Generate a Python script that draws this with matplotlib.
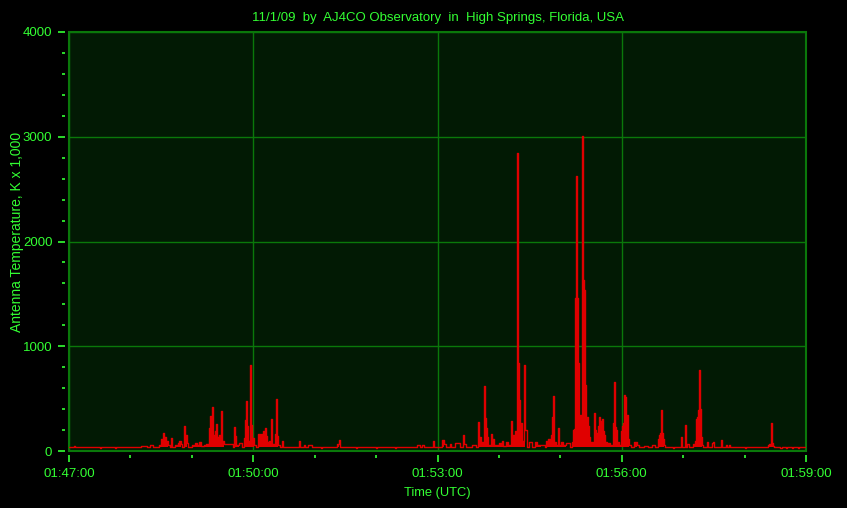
# Antenna temperature record, AJ4CO Observatory, 11/1/09
import matplotlib
matplotlib.use('Agg')
import matplotlib.pyplot as plt
import numpy as np

# seconds after 01:47:00 UTC (sample where the value changes)
sec = [0, 5, 6, 30, 31, 45, 46, 70, 76, 79, 82,
       88, 90, 92, 93, 95, 97, 99, 100, 101, 104,
       106, 107, 109, 110, 112.5, 113.5, 115, 116, 120, 123,
       125, 127, 129, 132, 134, 137, 138, 139, 140, 141,
       142.5, 144, 145, 147, 148.5, 149.5, 151, 160, 161, 162,
       163, 166, 169, 171, 172, 173, 174, 175, 177, 178,
       179, 180.5, 182.5, 184.5, 186.5, 187.5, 188.5, 190, 191, 192,
       193.5, 195, 196.5, 197.5, 198.5, 201, 202.5, 203.5, 204.5, 206,
       208.5, 209.5, 224.5, 225.5, 229.5, 230.5, 233.5, 237.5, 246, 247,
       262, 263.5, 265, 280, 281, 300, 301, 318, 319, 340,
       343, 345, 347, 356, 357, 364.5, 366.5, 368.5, 372, 373,
       377, 382, 385, 386, 388, 394, 398, 400, 401, 402.5,
       405, 406, 407, 408, 409, 412, 413, 415, 420, 423,
       424, 426.5, 429, 432, 433, 434, 435.5, 436.5, 438, 439,
       440, 441, 442, 443, 444.5, 445.5, 447, 449.5, 452, 455,
       457, 461, 465, 466, 468, 469.5, 471, 472, 473, 474,
       476, 478, 479, 480.5, 482.5, 485.5, 489, 491.5, 492.5, 493.5,
       494.5, 495.5, 496.5, 497.2, 498, 499.5, 500.5, 501.5, 502.2, 503,
       504, 505, 506, 507, 508, 509, 512, 513, 514, 515,
       517, 518, 519, 520, 521, 522, 523, 524, 525.5, 529,
       531, 531.7, 532.5, 533.5, 534.5, 535.5, 537.5, 539.5, 540.5, 541.5,
       542.5, 543.5, 544.5, 545.5, 546.5, 547.5, 549, 552, 555, 557,
       562, 566, 570, 572, 575.5, 576.5, 577.5, 578.5, 579.5, 580.5,
       581.5, 582.5, 590, 591, 598, 599, 602, 603, 604, 606,
       609.5, 611.5, 612.5, 613.5, 614.3, 615.3, 616, 617, 618, 619,
       623.5, 624.5, 628, 629, 630, 637, 638, 642, 643, 645,
       646, 660, 661, 683, 684, 686, 687, 688, 689, 695,
       697, 700, 701, 706, 707, 712, 713, 720]

# antenna temperature, K x 1,000
temp = [40, 50, 40, 26, 40, 28, 40, 52, 40, 55, 40,
        60, 110, 170, 130, 100, 60, 40, 121, 40, 55,
        80, 95, 70, 40, 239, 150, 80, 40, 60, 80,
        60, 85, 50, 60, 70, 222, 334, 150, 423, 150,
        190, 255, 130, 153, 382, 100, 70, 40, 232, 140,
        60, 80, 40, 120, 296, 477, 240, 100, 821, 250,
        120, 60, 40, 159, 140, 160, 120, 190, 220, 140,
        90, 95, 60, 302, 70, 160, 496, 140, 60, 40,
        100, 40, 95, 40, 60, 40, 55, 40, 27, 40,
        70, 105, 40, 26, 40, 27, 40, 27, 40, 60,
        40, 60, 40, 92, 40, 105, 70, 40, 70, 40,
        75, 40, 153, 70, 40, 55, 40, 277, 135, 90,
        620, 315, 220, 135, 60, 159, 110, 60, 75, 100,
        50, 85, 60, 286, 100, 150, 190, 170, 2845, 843,
        487, 190, 264, 100, 821, 200, 40, 85, 40, 90,
        60, 55, 40, 100, 110, 60, 155, 321, 525, 85,
        60, 216, 60, 90, 60, 80, 40, 90, 200, 210,
        1458, 2625, 1458, 837, 200, 344, 210, 3007, 1632, 1537,
        630, 200, 328, 240, 130, 90, 60, 360, 200, 170,
        240, 322, 290, 260, 310, 190, 150, 90, 80, 60,
        90, 270, 662, 230, 200, 90, 60, 190, 240, 270,
        535, 520, 270, 344, 110, 60, 40, 90, 60, 40,
        50, 40, 55, 40, 110, 150, 170, 390, 170, 110,
        60, 40, 27, 40, 134, 40, 248, 40, 70, 40,
        70, 100, 305, 328, 391, 773, 401, 130, 60, 40,
        85, 40, 75, 85, 40, 105, 40, 55, 40, 55,
        40, 27, 40, 55, 70, 267, 80, 50, 40, 26,
        40, 26, 40, 26, 40, 26, 40, 40]

x_ticks = [0, 180, 360, 540, 720]
x_labels = ['01:47:00', '01:50:00', '01:53:00', '01:56:00', '01:59:00']
y_ticks = [0, 1000, 2000, 3000, 4000]

txt = '#33ff33'
grid_c = '#0a780a'
bg = '#021a04'

plt.rcParams['font.family'] = ['Liberation Sans', 'DejaVu Sans']

f = plt.figure(figsize=(8.47, 5.08), dpi=100, facecolor='black')
ax = f.add_axes([69/847, 57/508, 737/847, 419/508])
ax.set_facecolor(bg)
ax.patch.set_edgecolor(grid_c)
ax.patch.set_linewidth(1.5)

s = np.array(sec)
v = np.array(temp)
ax.fill_between(s, 40, v, where=v > 40, step='post', color='#e00000', lw=0)
ax.plot(s, v, drawstyle='steps-post', color='#e00000', lw=1.0)

ax.set_xlim(0, 720)
ax.set_ylim(0, 4000)
ax.set_xticks(x_ticks)
ax.set_xticklabels(x_labels)
ax.set_xticks(np.arange(0, 721, 60), minor=True)
ax.set_yticks(y_ticks)
ax.set_yticks(np.arange(0, 4001, 200), minor=True)
ax.grid(True, which='major', color=grid_c, lw=1)
ax.set_axisbelow(True)

for side in ['left', 'bottom']:
    ax.spines[side].set_position(('outward', 3))
    ax.spines[side].set_visible(False)
for side in ['top', 'right']:
    ax.spines[side].set_visible(False)

ax.tick_params(which='major', length=5, width=1.2, color=txt, labelcolor=txt,
               labelsize=9.5, pad=4)
ax.tick_params(which='minor', length=2, width=1.2, color=txt)

ax.set_xlabel('Time (UTC)', color=txt, fontsize=9.3, labelpad=5)
ax.set_ylabel('Antenna Temperature, K x 1,000', color=txt, fontsize=10)
ax.yaxis.set_label_coords(-0.061, 0.523)
ax.set_title('11/1/09  by  AJ4CO Observatory  in  High Springs, Florida, USA',
             color=txt, fontsize=9.5, pad=8)

f.savefig('out.png', dpi=100, facecolor='black')
